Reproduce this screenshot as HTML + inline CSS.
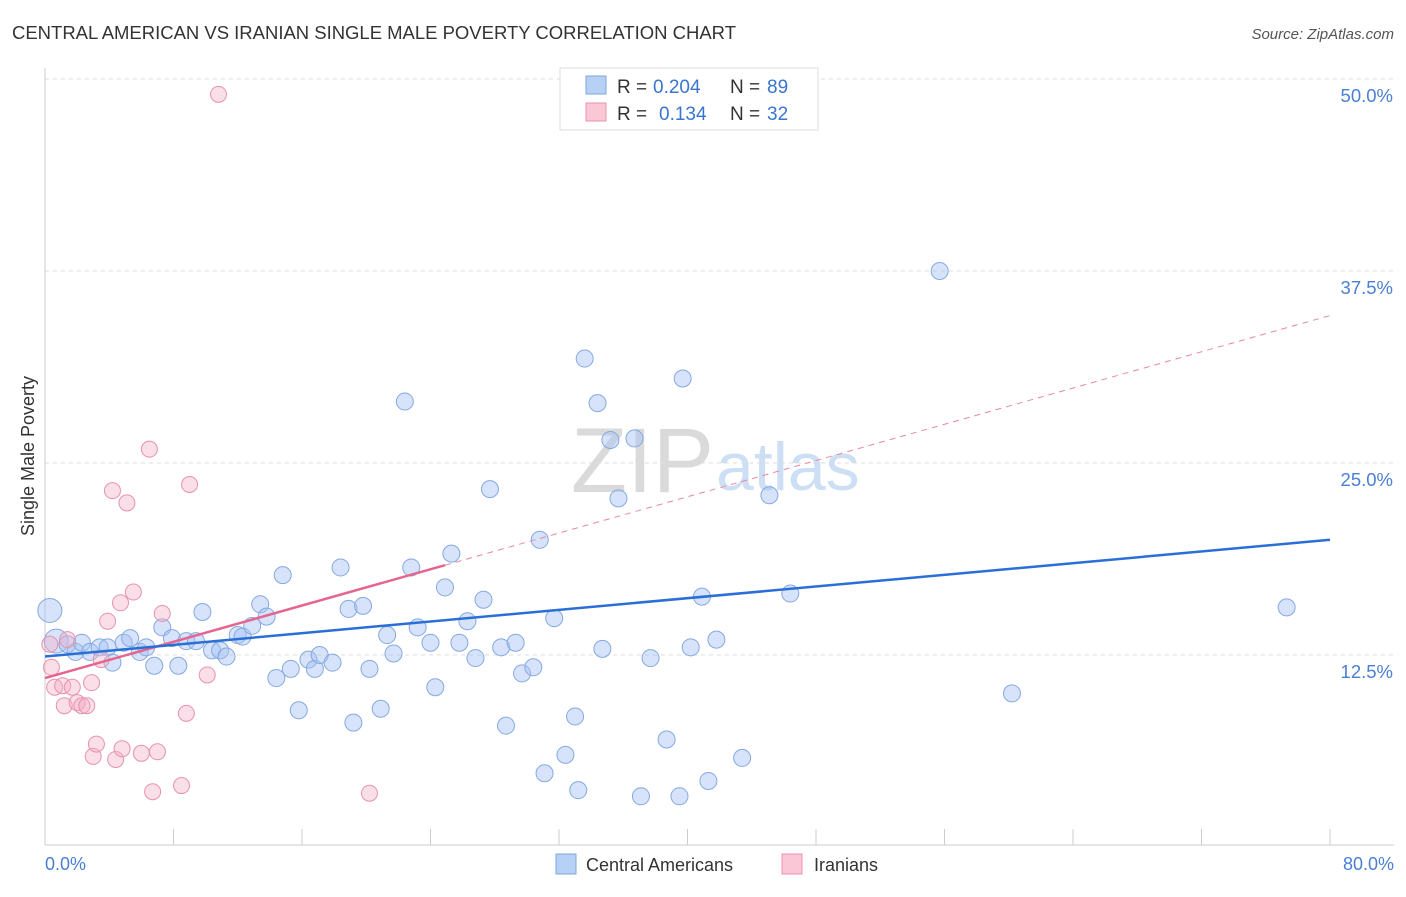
<!DOCTYPE html>
<html><head><meta charset="utf-8"><style>
body{margin:0;background:#fff;font-family:"Liberation Sans",sans-serif;}
svg text{font-family:"Liberation Sans",sans-serif;}
</style></head><body>
<svg id="chart" width="1406" height="892" xmlns="http://www.w3.org/2000/svg">
<text x="12" y="39" font-size="18.5" fill="#333" textLength="724">CENTRAL AMERICAN VS IRANIAN SINGLE MALE POVERTY CORRELATION CHART</text>
<text x="1394" y="39" font-size="15" fill="#555" font-style="italic" text-anchor="end">Source: ZipAtlas.com</text>
<text x="714" y="492" font-size="92" fill="#dadada" text-anchor="end" font-family="Liberation Serif">ZIP</text>
<text x="716" y="490" font-size="68" fill="#cddff4">atlas</text>
<g id="grid"></g>
<g id="axes"></g>
<g id="marks"></g>
<text transform="translate(34,456) rotate(-90)" font-size="18" fill="#333" text-anchor="middle">Single Male Poverty</text>
<text x="45" y="870" font-size="18" fill="#4a7fd4">0.0%</text>
<text x="1394" y="870" font-size="18" fill="#4a7fd4" text-anchor="end">80.0%</text>
<g>
<rect x="560" y="68" width="258" height="62" fill="#fff" stroke="#ddd"/>
<rect x="586" y="76" width="20" height="18" fill="#b7d0f5" stroke="#7fa6e0"/>
<rect x="586" y="103" width="20" height="18" fill="#f9c7d6" stroke="#e892ae"/>
<text x="617" y="93" font-size="19" fill="#333">R =</text>
<text x="653" y="93" font-size="19" fill="#3a75d0">0.204</text>
<text x="730" y="93" font-size="19" fill="#333">N =</text>
<text x="767" y="93" font-size="19" fill="#3a75d0">89</text>
<text x="617" y="120" font-size="19" fill="#333">R =</text>
<text x="659" y="120" font-size="19" fill="#3a75d0">0.134</text>
<text x="730" y="120" font-size="19" fill="#333">N =</text>
<text x="767" y="120" font-size="19" fill="#3a75d0">32</text>
</g>
<g>
<rect x="556" y="854" width="20" height="20" fill="#b7d0f5" stroke="#7fa6e0"/>
<text x="586" y="871" font-size="18" fill="#333">Central Americans</text>
<rect x="782" y="854" width="20" height="20" fill="#f9c7d6" stroke="#e892ae"/>
<text x="814" y="871" font-size="18" fill="#333">Iranians</text>
</g>
</svg>
<script>
const yTicks=[12.5,25.0,37.5,50.0];
const yTickLabels=["12.5%","25.0%","37.5%","50.0%"];
const xTicks=[8,16,24,32,40,48,56,64,72,80];
const blueX=[0.3,0.7,1.4,1.9,2.3,2.8,3.4,3.9,4.2,4.9,5.3,5.9,6.3,6.8,7.3,7.9,8.3,8.8,9.4,9.8,10.4,10.9,11.3,12.0,12.3,12.9,13.4,13.8,14.4,14.8,15.3,15.8,16.4,16.8,17.1,17.9,18.4,18.9,19.2,19.8,20.2,20.9,21.3,21.7,22.4,22.8,23.2,24.0,24.3,24.9,25.3,25.8,26.3,26.8,27.3,27.7,28.4,28.7,29.3,29.7,30.4,30.8,31.1,31.7,32.4,33.0,33.2,33.6,34.4,34.7,35.2,35.7,36.7,37.1,37.7,38.7,39.5,39.7,40.2,40.9,41.3,41.8,43.4,45.1,46.4,55.7,60.2,77.3];
const blueY=[15.4,13.4,13.2,12.7,13.3,12.7,13.0,13.0,12.0,13.3,13.6,12.7,13.0,11.8,14.3,13.6,11.8,13.4,13.4,15.3,12.8,12.8,12.4,13.8,13.7,14.4,15.8,15.0,11.0,17.7,11.6,8.9,12.2,11.6,12.5,12.0,18.2,15.5,8.1,15.7,11.6,9.0,13.8,12.6,29.0,18.2,14.3,13.3,10.4,16.9,19.1,13.3,14.7,12.3,16.1,23.3,13.0,7.9,13.3,11.3,11.7,20.0,4.8,14.9,6.0,8.5,3.7,31.8,28.9,12.9,26.5,22.7,26.6,3.3,12.3,7.0,3.3,30.5,13.0,16.3,4.3,13.5,5.8,22.9,16.5,37.5,10.0,15.6];
const pinkX=[0.3,0.4,0.6,1.1,1.2,1.4,1.7,2.0,2.3,2.6,2.9,3.0,3.2,3.5,3.9,4.2,4.4,4.7,4.8,5.1,5.5,6.0,6.5,6.7,7.0,7.3,8.5,8.8,9.0,10.1,10.8,20.2];
const pinkY=[13.2,11.7,10.4,10.5,9.2,13.5,10.4,9.4,9.2,9.2,10.7,5.9,6.7,12.2,14.7,23.2,5.7,15.9,6.4,22.4,16.6,6.1,25.9,3.6,6.2,15.2,4.0,8.7,23.6,11.2,49.0,3.5];
const blueTrend=[12.4,20.0];
const pinkTrend=[11.0,34.6];
const pinkSolidEnd=24.9;
const NS="http://www.w3.org/2000/svg";
const xs=v=>45+v/80*1285, ys=v=>847-v/50*768;
function mk(parent,tag,attrs){const e=document.createElementNS(NS,tag);for(const k in attrs)e.setAttribute(k,attrs[k]);document.getElementById(parent).appendChild(e);return e;}
yTicks.forEach((t,i)=>{
 const l=mk('grid','line',{x1:45,x2:1394,y1:ys(t),y2:ys(t),stroke:'#ddd','stroke-dasharray':'4,4'});
 
 
 const tx=mk('grid','text',{x:1393,y:ys(t)+23,'font-size':18.5,fill:'#4a7fd4','text-anchor':'end'});tx.textContent=yTickLabels[i];
 
 
});
const ax=mk('axes','line',{x1:45,x2:1394,y1:845,y2:845,stroke:'#ccc'});


const ay=mk('axes','line',{x1:45,x2:45,y1:68,y2:845,stroke:'#ccc'});


xTicks.forEach(t=>{const l=mk('axes','line',{x1:xs(t),x2:xs(t),y1:829,y2:845,stroke:'#ccc'});
 
 });
blueX.forEach((x,i)=>{const c=mk('marks','circle',{cx:xs(x),cy:ys(blueY[i]),r:(i<2?12:8.5),fill:'rgba(164,194,244,0.45)',stroke:'#86a9e0','stroke-width':1});
 
 });
pinkX.forEach((x,i)=>{const c=mk('marks','circle',{cx:xs(x),cy:ys(pinkY[i]),r:8,fill:'rgba(246,175,198,0.4)',stroke:'#e892ae','stroke-width':1});
 
 });
const pv=x=>pinkTrend[0]+(pinkTrend[1]-pinkTrend[0])*x/80;
const pd=mk('marks','line',{x1:xs(pinkSolidEnd),y1:ys(pv(pinkSolidEnd)),x2:xs(80),y2:ys(pv(80)),stroke:'#e8889f','stroke-width':1,'stroke-dasharray':'6,5'});


const ps=mk('marks','line',{x1:xs(0),y1:ys(pv(0)),x2:xs(pinkSolidEnd),y2:ys(pv(pinkSolidEnd)),stroke:'#e5658e','stroke-width':2.5});


const bl=mk('marks','line',{x1:xs(0),y1:ys(blueTrend[0]),x2:xs(80),y2:ys(blueTrend[1]),stroke:'#2a6fd6','stroke-width':2.5});


</script>
</body></html>
